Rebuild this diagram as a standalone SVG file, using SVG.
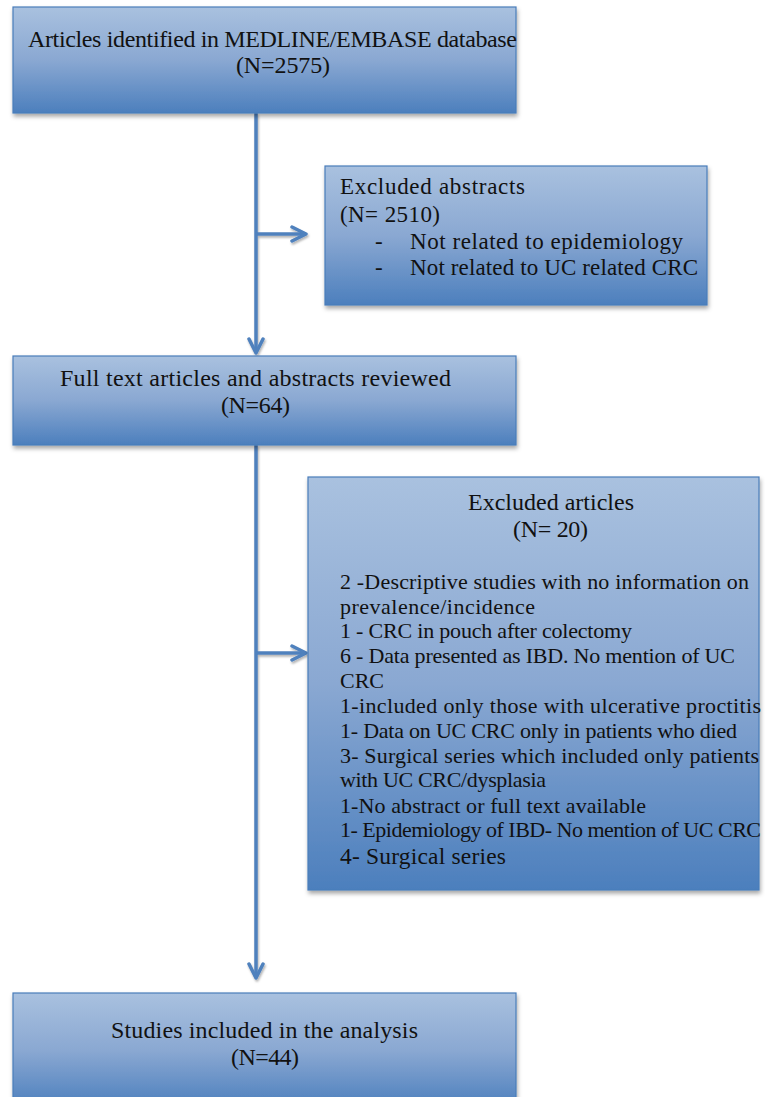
<svg xmlns="http://www.w3.org/2000/svg" width="765" height="1097" viewBox="0 0 765 1097">
<defs>
<linearGradient id="g" x1="0" y1="0" x2="0" y2="1">
<stop offset="0" stop-color="#a9c1df"/>
<stop offset="0.5" stop-color="#8aa8d2"/>
<stop offset="1" stop-color="#4c7fbd"/>
</linearGradient>
<filter id="sh" x="-5%" y="-5%" width="115%" height="120%">
<feDropShadow dx="1" dy="3" stdDeviation="2" flood-color="#000" flood-opacity="0.35"/>
</filter>
<filter id="ls" x="-20%" y="-5%" width="140%" height="110%">
<feDropShadow dx="1" dy="2" stdDeviation="1.2" flood-color="#000" flood-opacity="0.3"/>
</filter>
<marker id="ah" viewBox="0 0 10 10" refX="9" refY="5" markerWidth="5" markerHeight="5" markerUnits="strokeWidth" orient="auto">
<path d="M1,1 L9,5 L1,9" fill="none" stroke="#4f81bd" stroke-width="2" stroke-linecap="round" stroke-linejoin="round"/>
</marker>
<style>
.box{fill:url(#g);stroke:#4a7dba;stroke-width:1.2;filter:url(#sh)}
.t{font-family:"Liberation Serif","DejaVu Serif",serif;fill:#111;font-size:24px}
.s{font-family:"Liberation Serif","DejaVu Serif",serif;fill:#111;font-size:22px}
.a{font-size:23px}
.b{font-size:23.5px}
.c{fill:none;stroke:#4f81bd;stroke-width:3.5}
</style>
</defs>
<g id="connectors" filter="url(#ls)">
<line class="c" x1="256" y1="113" x2="256" y2="353" marker-end="url(#ah)"/>
<line class="c" x1="256" y1="445" x2="256" y2="978" marker-end="url(#ah)"/>
<line class="c" x1="256" y1="234" x2="306" y2="234" marker-end="url(#ah)"/>
<line class="c" x1="256" y1="653" x2="306" y2="653" marker-end="url(#ah)"/>
</g>
<g id="n1">
<rect class="box" x="13" y="7" width="503" height="106"/>
<text class="t" x="28" y="47" textLength="489">Articles identified in MEDLINE/EMBASE database</text>
<text class="t" x="236" y="73" textLength="94">(N=2575)</text>
</g>
<g id="n2">
<rect class="box" x="325" y="166" width="382" height="139"/>
<text class="s a" x="340" y="194" textLength="185">Excluded abstracts</text>
<text class="s a" x="340" y="222" textLength="100">(N= 2510)</text>
<text class="s a" x="375" y="249">-</text>
<text class="s a" x="410" y="249" textLength="273">Not related to epidemiology</text>
<text class="s a" x="375" y="275">-</text>
<text class="s a" x="410" y="275" textLength="288">Not related to UC related CRC</text>
</g>
<g id="n3">
<rect class="box" x="13" y="356" width="503" height="89"/>
<text class="t" x="60" y="386" textLength="391">Full text articles and abstracts reviewed</text>
<text class="t" x="221" y="413" textLength="69">(N=64)</text>
</g>
<g id="n4">
<rect class="box" x="308" y="477" width="451" height="413"/>
<text class="t" x="468" y="510" textLength="166">Excluded articles</text>
<text class="t" x="513" y="537" textLength="75">(N= 20)</text>
<text class="s" x="340" y="589" textLength="409">2 -Descriptive studies with no information on</text>
<text class="s" x="340" y="614" textLength="195">prevalence/incidence</text>
<text class="s" x="340" y="638" textLength="292">1 - CRC in pouch after colectomy</text>
<text class="s" x="340" y="663" textLength="395">6 - Data presented as IBD. No mention of UC</text>
<text class="s" x="340" y="688">CRC</text>
<text class="s" x="340" y="713" textLength="421">1-included only those with ulcerative  proctitis</text>
<text class="s" x="340" y="738" textLength="397">1- Data on UC CRC only in patients who died</text>
<text class="s" x="340" y="763" textLength="419">3- Surgical series which included only patients</text>
<text class="s" x="340" y="787" textLength="206">with UC CRC/dysplasia</text>
<text class="s" x="340" y="813" textLength="306">1-No abstract or full text available</text>
<text class="s" x="340" y="837" textLength="421">1- Epidemiology of IBD- No mention of UC CRC</text>
<text class="s b" x="340" y="864" textLength="166">4- Surgical series</text>
</g>
<g id="n5">
<rect class="box" x="13" y="993" width="503" height="115"/>
<text class="t" x="111" y="1038" textLength="307">Studies included in the analysis</text>
<text class="t" x="231" y="1065" textLength="68">(N=44)</text>
</g>
</svg>
